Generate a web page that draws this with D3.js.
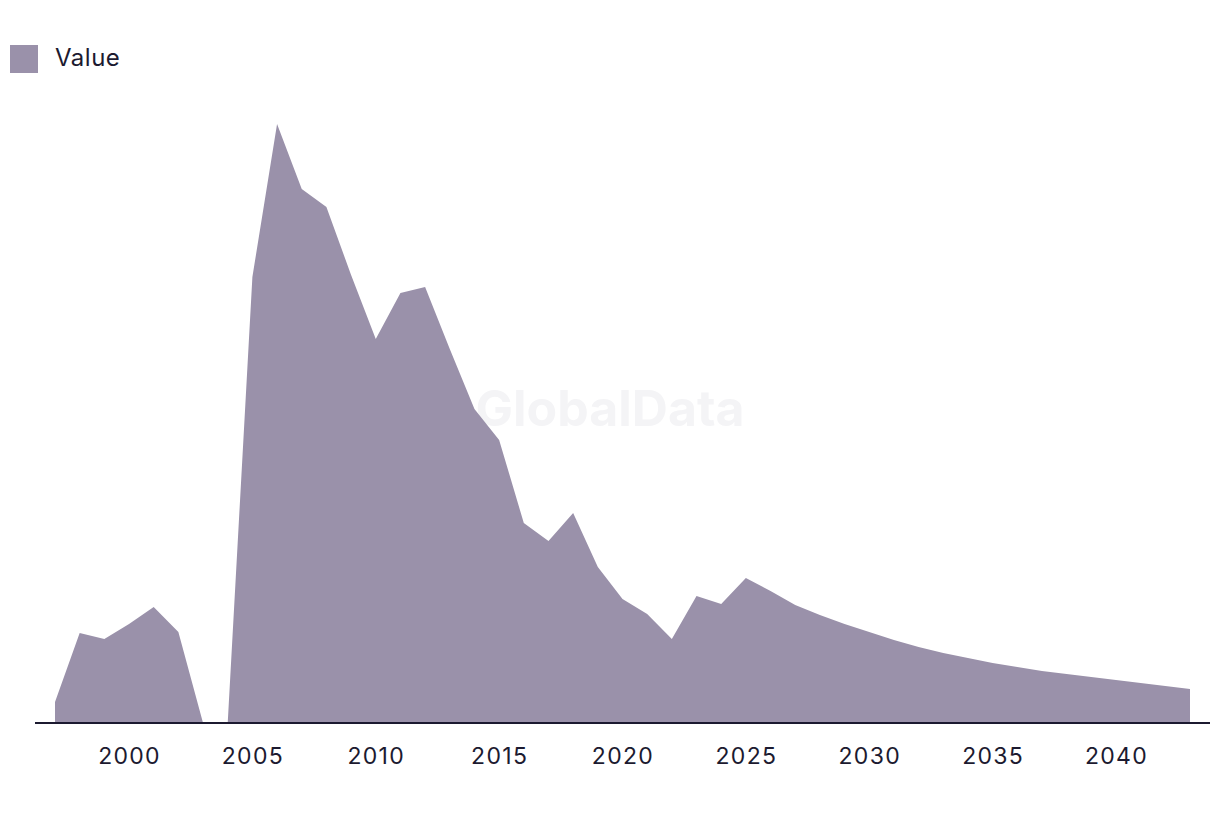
<!DOCTYPE html>
<html><head><meta charset="utf-8">
<script src="https://cdn.jsdelivr.net/npm/d3@7"></script>
<style>body{margin:0;background:#fff;}svg{display:block;}</style>
</head><body>
<svg id="chart" width="1220" height="816"></svg>
<script>
const years = d3.range(1997, 2044);
const values = [21, 90, 84, 99, 116, 91, 0, 0, 446, 599, 534, 516, 448, 384, 430, 436, 374, 314, 283, 200, 182, 210, 156, 124, 109, 84, 127, 119, 145, 132, 118, 108, 99, 91, 83, 76, 70, 65, 60, 56, 52, 49, 46, 43, 40, 37, 34];
const tickYears = [2000, 2005, 2010, 2015, 2020, 2025, 2030, 2035, 2040];
const seriesName = "Value";

const data = years.map((y, i) => ({year: y, value: values[i]}));
const svg = d3.select("#chart");
const x = d3.scaleLinear().domain([1997, 2043]).range([55, 1190]);
const y = d3.scaleLinear().domain([0, 600]).range([723, 123]);
const fill = "#9a91aa";
const font = "Inter, 'Liberation Sans', sans-serif";

svg.append("text").attr("x", 610).attr("y", 426).attr("text-anchor", "middle")
  .attr("font-family", font).attr("font-weight", 700).attr("font-size", 50)
  .attr("fill", "#f4f4f6").text("GlobalData");

const area = d3.area().x(d => x(d.year)).y0(y(0)).y1(d => y(d.value));
svg.append("path").datum(data).attr("d", area).attr("fill", fill);

const axis = d3.axisBottom(x).tickValues(tickYears).tickFormat(d3.format("d")).tickSize(0).tickPadding(25);
const g = svg.append("g").attr("transform", "translate(0,723)").call(axis);
g.select(".domain").remove();
g.selectAll("text").attr("font-family", font).attr("font-size", 23)
  .attr("letter-spacing", "1.3px").attr("fill", "#1c1a30");
svg.append("line").attr("x1", 35).attr("x2", 1210).attr("y1", 723).attr("y2", 723)
  .attr("stroke", "#1c1a30").attr("stroke-width", 2);

const leg = svg.append("g");
leg.append("rect").attr("x", 10).attr("y", 45).attr("width", 28).attr("height", 28).attr("fill", fill);
leg.append("text").attr("x", 55).attr("y", 66).attr("font-family", font).attr("font-size", 24)
  .attr("letter-spacing", "0.5px").attr("fill", "#1c1a30").text(seriesName);
</script>
</body></html>
